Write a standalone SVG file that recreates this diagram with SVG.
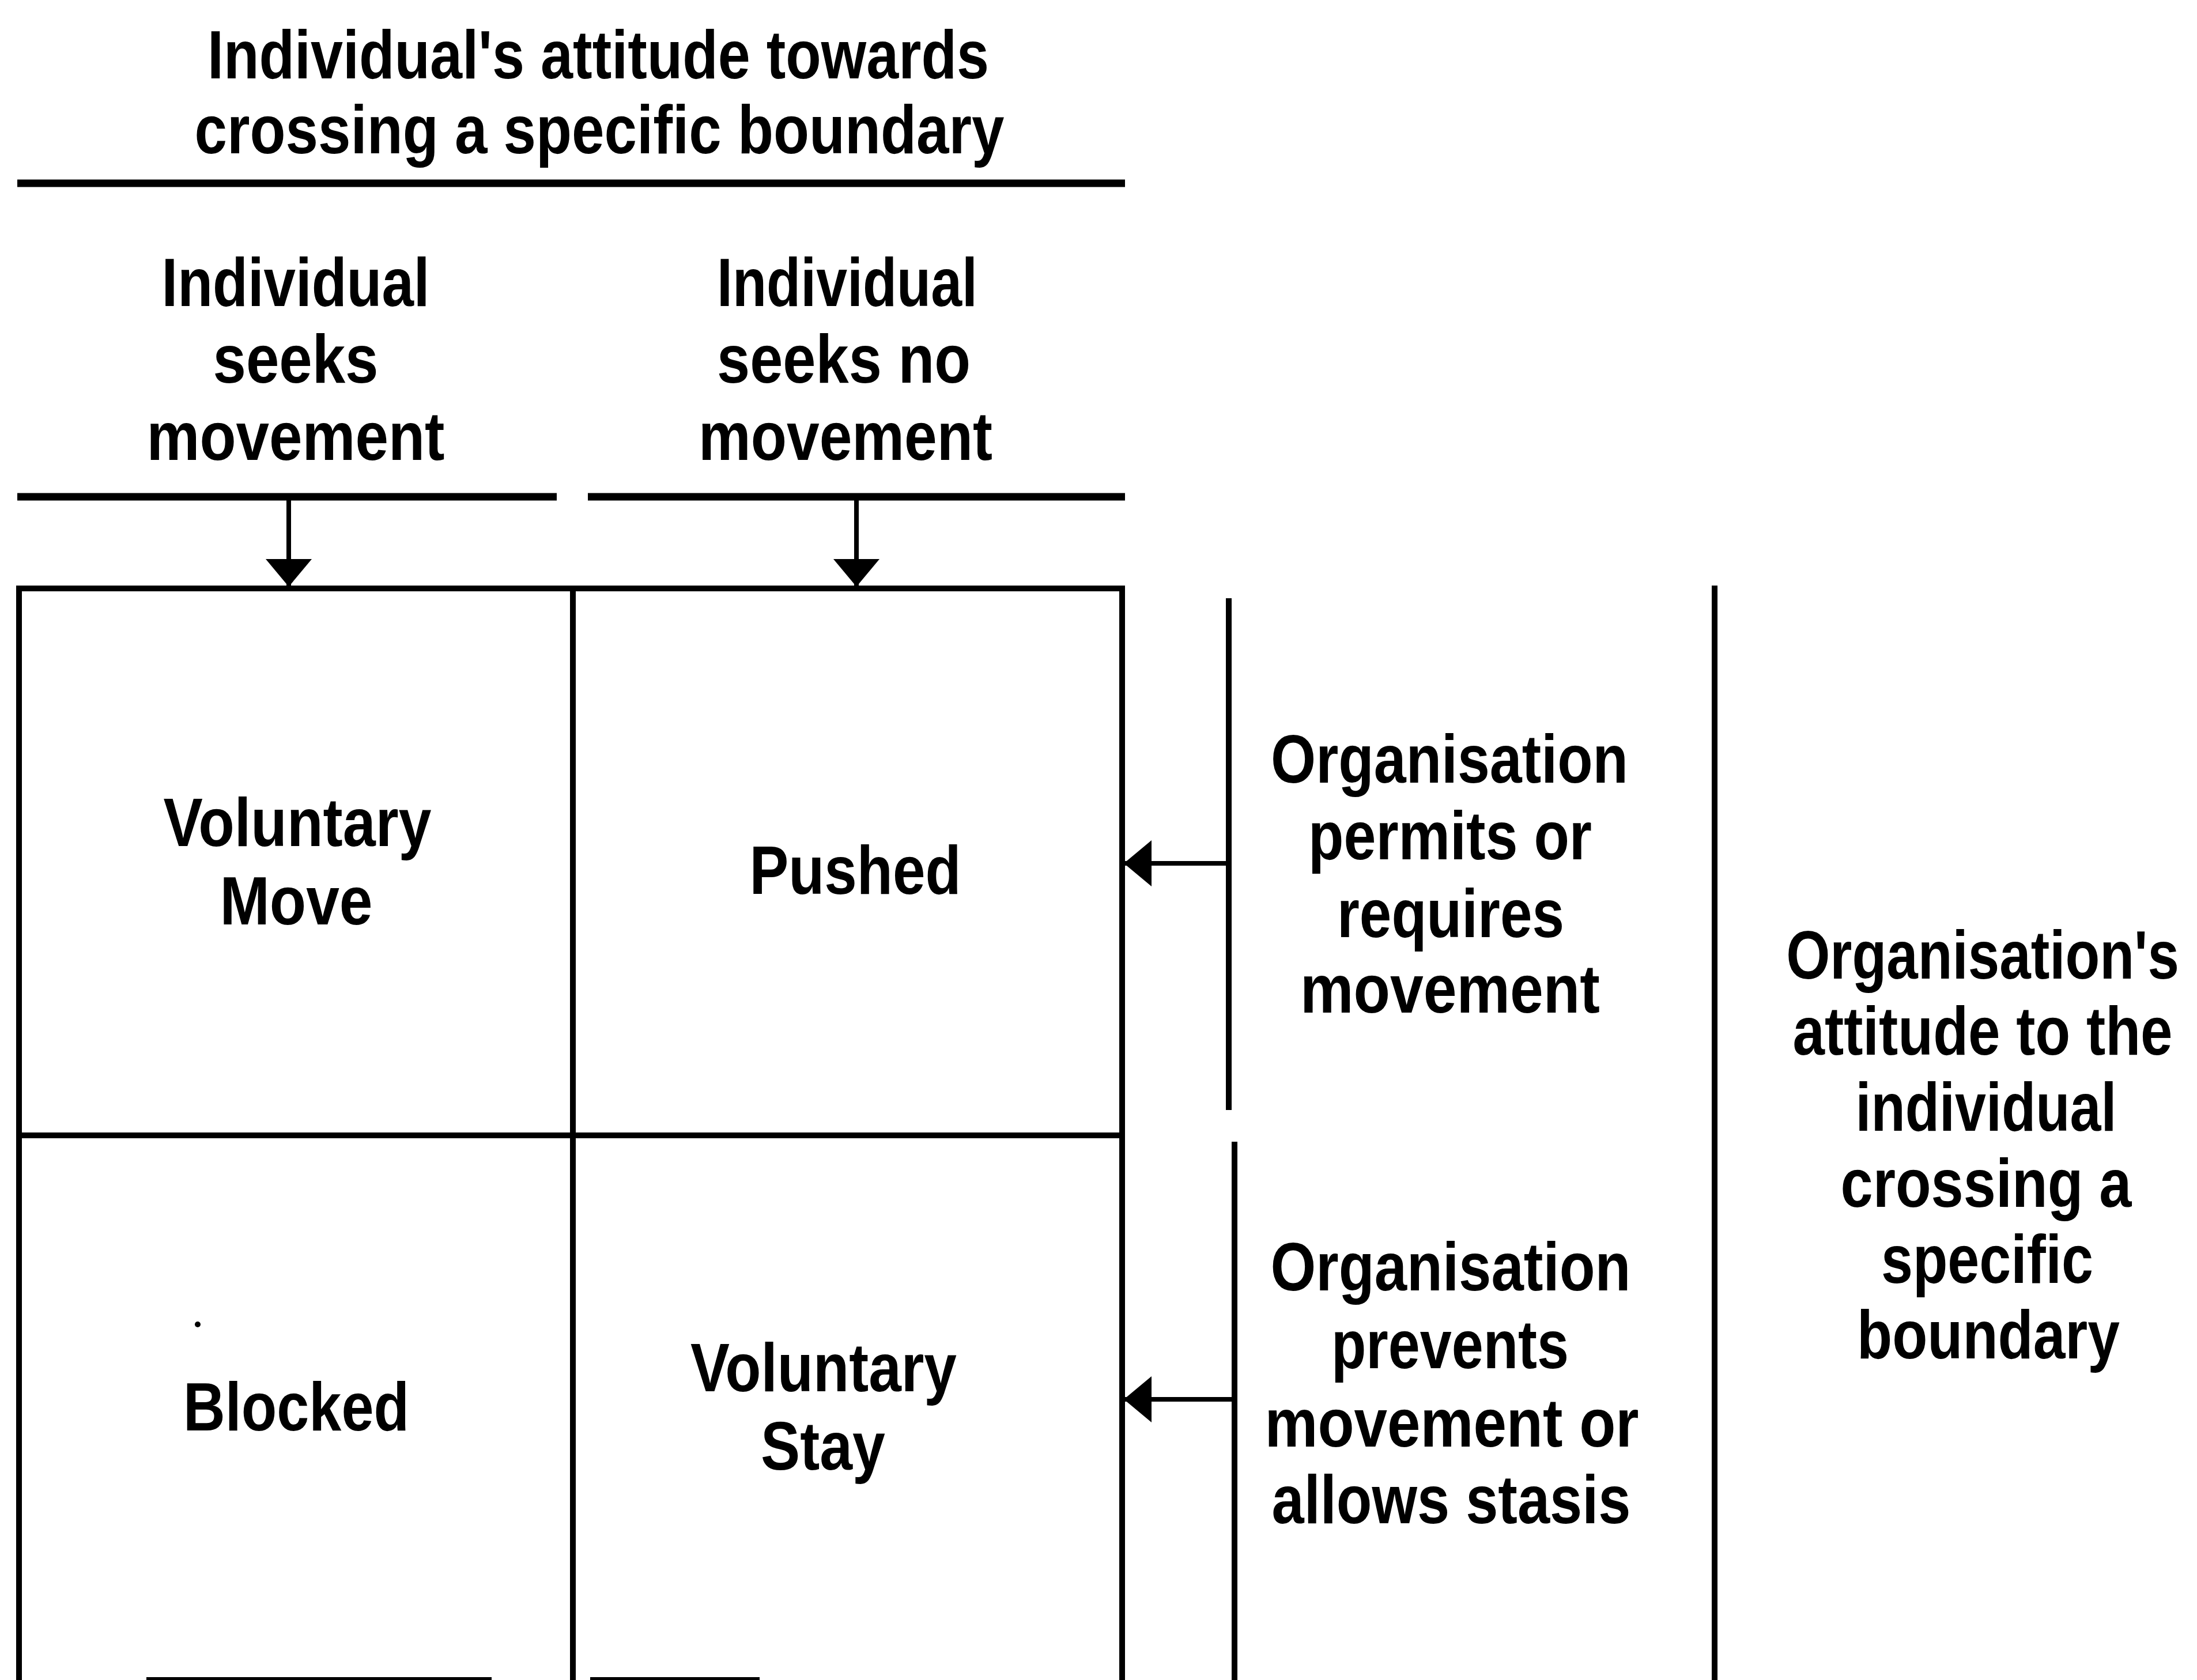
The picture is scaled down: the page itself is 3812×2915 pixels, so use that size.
<svg xmlns="http://www.w3.org/2000/svg" width="3812" height="2915" viewBox="0 0 3812 2915">
  <defs>
    <style>
      .t { font-family: "Liberation Sans", Arial, sans-serif; font-size: 118px; font-weight: bold; fill: #000; text-anchor: middle; }
      .rule { stroke: #000; stroke-width: 13; fill: none; }
      .grid { stroke: #000; stroke-width: 10; fill: none; }
      .bar { stroke: #000; stroke-width: 10; fill: none; }
      .conn { stroke: #000; stroke-width: 8; fill: none; marker-end: url(#head); }
    </style>
    <marker id="head" markerUnits="userSpaceOnUse" markerWidth="50" markerHeight="84" refX="48" refY="42" orient="auto">
      <path d="M0,2 L48,42 L0,82 Z" fill="#000"/>
    </marker>
  </defs>
  <rect width="3812" height="2915" fill="#fff"/>

  <!-- Column axis title -->
  <g id="individual-attitude">
    <text class="t" x="1038" y="136" textLength="1356" lengthAdjust="spacingAndGlyphs">Individual's attitude towards</text>
    <text class="t" x="1040" y="266" textLength="1405" lengthAdjust="spacingAndGlyphs">crossing a specific boundary</text>
    <line class="rule" x1="30" y1="318" x2="1952" y2="318"/>
  </g>

  <!-- Column headers -->
  <g id="seeks-movement">
    <text class="t" x="513" y="531" textLength="465" lengthAdjust="spacingAndGlyphs">Individual</text>
    <text class="t" x="513" y="664" textLength="287" lengthAdjust="spacingAndGlyphs">seeks</text>
    <text class="t" x="513" y="798" textLength="517" lengthAdjust="spacingAndGlyphs">movement</text>
    <line class="rule" x1="30" y1="862" x2="966" y2="862"/>
  </g>
  <g id="seeks-no-movement">
    <text class="t" x="1470" y="531" textLength="452" lengthAdjust="spacingAndGlyphs">Individual</text>
    <text class="t" x="1464" y="664" textLength="440" lengthAdjust="spacingAndGlyphs">seeks no</text>
    <text class="t" x="1467" y="798" textLength="510" lengthAdjust="spacingAndGlyphs">movement</text>
    <line class="rule" x1="1020" y1="862" x2="1952" y2="862"/>
  </g>

  <!-- 2x2 grid -->
  <g id="grid">
    <path class="grid" d="M33,2915 V1021 H1947 V2915"/>
    <line class="grid" x1="994" y1="1021" x2="994" y2="2915"/>
    <line class="grid" x1="33" y1="1970" x2="1947" y2="1970"/>
    <rect x="254" y="2910" width="599" height="5" fill="#000"/>
    <rect x="1024" y="2910" width="294" height="5" fill="#000"/>
  </g>

  <g id="voluntary-move">
    <text class="t" x="516" y="1468" textLength="465" lengthAdjust="spacingAndGlyphs">Voluntary</text>
    <text class="t" x="514" y="1604" textLength="265" lengthAdjust="spacingAndGlyphs">Move</text>
  </g>
  <g id="pushed">
    <text class="t" x="1484" y="1551" textLength="367" lengthAdjust="spacingAndGlyphs">Pushed</text>
  </g>
  <g id="blocked">
    <circle cx="343" cy="2298" r="5" fill="#000"/>
    <text class="t" x="514" y="2482" textLength="392" lengthAdjust="spacingAndGlyphs">Blocked</text>
  </g>
  <g id="voluntary-stay">
    <text class="t" x="1429" y="2414" textLength="462" lengthAdjust="spacingAndGlyphs">Voluntary</text>
    <text class="t" x="1428" y="2550" textLength="216" lengthAdjust="spacingAndGlyphs">Stay</text>
  </g>

  <!-- Row headers -->
  <g id="permits-movement">
    <line class="bar" x1="2132" y1="1038" x2="2132" y2="1926"/>
    <text class="t" x="2515" y="1358" textLength="620" lengthAdjust="spacingAndGlyphs">Organisation</text>
    <text class="t" x="2516" y="1491" textLength="492" lengthAdjust="spacingAndGlyphs">permits or</text>
    <text class="t" x="2517" y="1626" textLength="394" lengthAdjust="spacingAndGlyphs">requires</text>
    <text class="t" x="2516" y="1757" textLength="520" lengthAdjust="spacingAndGlyphs">movement</text>
  </g>
  <g id="prevents-movement">
    <line class="bar" x1="2142" y1="1981" x2="2142" y2="2915"/>
    <text class="t" x="2517" y="2239" textLength="625" lengthAdjust="spacingAndGlyphs">Organisation</text>
    <text class="t" x="2516" y="2374" textLength="412" lengthAdjust="spacingAndGlyphs">prevents</text>
    <text class="t" x="2519" y="2510" textLength="649" lengthAdjust="spacingAndGlyphs">movement or</text>
    <text class="t" x="2518" y="2643" textLength="623" lengthAdjust="spacingAndGlyphs">allows stasis</text>
  </g>

  <!-- Row axis title (two widest lines condensed by transform) -->
  <g id="organisation-attitude">
    <line class="bar" x1="2975" y1="1016" x2="2975" y2="2915"/>
    <text class="t" transform="translate(3440,1698) scale(0.83,1)">Organisation's</text>
    <text class="t" transform="translate(3440,1830) scale(0.845,1)">attitude to the</text>
    <text class="t" x="3446" y="1962" textLength="453" lengthAdjust="spacingAndGlyphs">individual</text>
    <text class="t" x="3446" y="2094" textLength="505" lengthAdjust="spacingAndGlyphs">crossing a</text>
    <text class="t" x="3448" y="2226" textLength="368" lengthAdjust="spacingAndGlyphs">specific</text>
    <text class="t" x="3450" y="2357" textLength="456" lengthAdjust="spacingAndGlyphs">boundary</text>
  </g>

  <!-- Connectors -->
  <g id="connectors">
    <line class="conn" x1="501" y1="862" x2="501" y2="1018"/>
    <line class="conn" x1="1486" y1="862" x2="1486" y2="1018"/>
    <line class="conn" x1="2132" y1="1498" x2="1950" y2="1498"/>
    <line class="conn" x1="2142" y1="2428" x2="1950" y2="2428"/>
  </g>
</svg>
